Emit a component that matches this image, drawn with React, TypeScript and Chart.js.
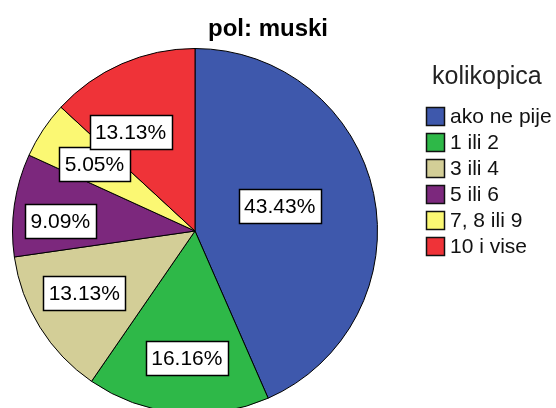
import React, { useEffect, useRef } from "react";
import { Chart, registerables } from "chart.js";

Chart.register(...registerables);

const chartTitle = "pol: muski";
const legendTitle = "kolikopica";
const categories = ["ako ne pije", "1 ili 2", "3 ili 4", "5 ili 6", "7, 8 ili 9", "10 i vise"];
const percents = [43.43, 16.16, 13.13, 9.09, 5.05, 13.13];
const sliceColors = ["#3E58AC", "#2EB848", "#D3CE97", "#7C287D", "#FBF873", "#EF3338"];

// label placement styling (fraction of radius, angular shift in degrees)
const labelRadius = [0.484, 0.7, 0.695, 0.74, 0.662, 0.646];
const labelShift = [-4.6, -1.8, 2.6, -4, 0, -9.5];

const FONT = '"Liberation Sans", Arial, sans-serif';

const overlayPlugin = {
  id: "overlay",
  afterDatasetsDraw(chart: any) {
    const ctx = chart.ctx as CanvasRenderingContext2D;
    const meta = chart.getDatasetMeta(0);
    ctx.save();
    ctx.font = `21px ${FONT}`;
    ctx.textAlign = "center";
    ctx.textBaseline = "middle";
    meta.data.forEach((arc: any, i: number) => {
      const p = arc.getProps(["x", "y", "startAngle", "endAngle", "outerRadius"], true);
      const mid = (p.startAngle + p.endAngle) / 2 + (labelShift[i] * Math.PI) / 180;
      const r = p.outerRadius * labelRadius[i];
      const cx = p.x + Math.cos(mid) * r;
      const cy = p.y + Math.sin(mid) * r;
      const text = percents[i].toFixed(2) + "%";
      const tw = ctx.measureText(text).width;
      const w = Math.round(tw + 11);
      const h = 34;
      const x0 = Math.round(cx - w / 2) + 0.5;
      const y0 = Math.round(cy - h / 2) + 0.5;
      ctx.fillStyle = "#ffffff";
      ctx.fillRect(x0, y0, w, h);
      ctx.strokeStyle = "#000000";
      ctx.lineWidth = 1.5;
      ctx.strokeRect(x0, y0, w, h);
      ctx.fillStyle = "#000000";
      ctx.fillText(text, cx, cy + 1);
    });
    ctx.restore();
  },
  afterDraw(chart: any) {
    const ctx = chart.ctx as CanvasRenderingContext2D;
    ctx.save();
    // title
    ctx.fillStyle = "#000";
    ctx.font = `bold 24px ${FONT}`;
    ctx.textAlign = "center";
    ctx.textBaseline = "alphabetic";
    ctx.fillText(chartTitle, 268, 36);
    // legend title
    ctx.font = `25px ${FONT}`;
    ctx.fillStyle = "#222";
    ctx.textAlign = "left";
    ctx.fillText(legendTitle, 432, 84);
    // legend items
    const labels = chart.data.labels as string[];
    const colors = chart.data.datasets[0].backgroundColor as string[];
    ctx.font = `21px ${FONT}`;
    labels.forEach((lab, i) => {
      const top = 107 + i * 26;
      ctx.fillStyle = colors[i];
      ctx.fillRect(426, top, 19, 19);
      ctx.strokeStyle = "#111";
      ctx.lineWidth = 1.5;
      ctx.strokeRect(426.5, top + 0.5, 18, 18);
      ctx.fillStyle = "#111";
      ctx.textBaseline = "middle";
      ctx.fillText(lab, 450, top + 10);
    });
    ctx.restore();
  },
};

export default function App() {
  const ref = useRef<HTMLCanvasElement | null>(null);
  useEffect(() => {
    document.body.style.margin = "0";
    const chart = new Chart(ref.current as HTMLCanvasElement, {
      type: "pie",
      data: {
        labels: categories,
        datasets: [
          {
            data: percents,
            backgroundColor: sliceColors,
            borderColor: "#000000",
            borderWidth: 1,
          },
        ],
      },
      options: {
        animation: false,
        responsive: false,
        devicePixelRatio: 1,
        layout: { padding: { left: 12, top: 48, right: 178, bottom: 26 } },
        plugins: {
          legend: { display: false },
          tooltip: { enabled: false },
          title: { display: false },
        },
      },
      plugins: [overlayPlugin],
    });
    return () => chart.destroy();
  }, []);
  return (
    <div style={{ width: 556, height: 408, overflow: "hidden", background: "#fff", position: "relative" }}>
      <canvas ref={ref} width={556} height={440} style={{ display: "block" }} />
    </div>
  );
}
